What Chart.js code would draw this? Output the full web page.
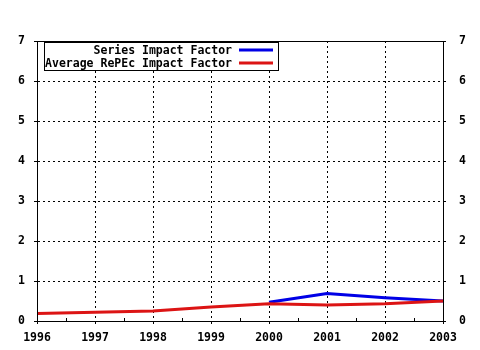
<!DOCTYPE html>
<html>
<head>
<meta charset="utf-8">
<script src="https://cdn.jsdelivr.net/npm/chart.js@4"></script>
<style>
html,body{margin:0;padding:0;background:#fff}
canvas{display:block}
</style>
</head>
<body>
<canvas id="myChart" width="480" height="350"></canvas>
<script>
// values
var years = [1996, 1997, 1998, 1999, 2000, 2001, 2002, 2003];
var seriesYears = [2000, 2001, 2002, 2003];
var seriesIF = [0.47, 0.69, 0.58, 0.50];
var averageIF = [0.19, 0.22, 0.25, 0.35, 0.43, 0.40, 0.43, 0.50];
var seriesLabels = ["Series Impact Factor", "Average RePEc Impact Factor"];
var seriesColors = ["#0000e6", "#dc1414"];

var monoFont = {family: "'DejaVu Sans Mono', monospace", size: 11.5, weight: "bold"};

function points(xs, ys){
    var out = [];
    for(var i = 0; i < xs.length; i++){
        out.push({x: xs[i], y: ys[i]});
    }
    return out;
}

var frame = {
    id: "frame",
    afterDatasetsDraw: function(chart){
        var a = chart.chartArea, ctx = chart.ctx;
        ctx.save();
        ctx.strokeStyle = "#000";
        ctx.lineWidth = 1;
        ctx.strokeRect(a.left + 0.5, a.top + 0.5, a.right - a.left, a.bottom - a.top);
        // small half-year ticks on bottom axis
        var xs = chart.scales.x;
        ctx.beginPath();
        for(var i = 0; i < years.length - 1; i++){
            var px = Math.round(xs.getPixelForValue(years[i] + 0.5)) + 0.5;
            ctx.moveTo(px, a.bottom);
            ctx.lineTo(px, a.bottom - 3);
        }
        ctx.stroke();

        // legend box
        var bx = 44, by = 42, bw = 234, bh = 28;
        ctx.fillStyle = "#fff";
        ctx.fillRect(bx, by, bw, bh);
        ctx.strokeRect(bx + 0.5, by + 0.5, bw, bh);
        ctx.font = "bold 11.5px 'DejaVu Sans Mono', monospace";
        ctx.textAlign = "right";
        ctx.textBaseline = "middle";
        for(var j = 0; j < seriesLabels.length; j++){
            var ty = by + 8 + j * 13;
            ctx.fillStyle = "#000";
            ctx.fillText(seriesLabels[j], 232, ty + 1.5);
            ctx.strokeStyle = seriesColors[j];
            ctx.lineWidth = 3;
            ctx.beginPath();
            ctx.moveTo(239, ty);
            ctx.lineTo(273, ty);
            ctx.stroke();
        }
        ctx.restore();
    }
};

new Chart("myChart", {
    type: "line",
    data: {
        datasets: [{
            label: seriesLabels[0],
            data: points(seriesYears, seriesIF),
            borderColor: seriesColors[0],
            borderWidth: 3,
            pointRadius: 0,
            tension: 0,
            order: 2
        }, {
            label: seriesLabels[1],
            data: points(years, averageIF),
            borderColor: seriesColors[1],
            borderWidth: 3,
            pointRadius: 0,
            tension: 0,
            order: 1
        }]
    },
    options: {
        responsive: false,
        animation: false,
        layout: {padding: {top: 41}},
        plugins: {legend: {display: false}, tooltip: {enabled: false}},
        scales: {
            x: {
                type: "linear",
                min: 1996, max: 2003,
                afterFit: function(s){ s.height = 29; },
                ticks: {stepSize: 1, color: "#000", font: monoFont, padding: 7, maxRotation: 0,
                    callback: function(v){ return String(v); }},
                grid: {color: "#000", tickLength: 3, lineWidth: 1},
                border: {color: "#000", dash: [2, 3]}
            },
            y: {
                position: "left",
                min: 0, max: 7,
                afterFit: function(s){ s.width = 37; },
                ticks: {stepSize: 1, color: "#000", font: monoFont, padding: 9},
                grid: {color: "#000", tickLength: 3, lineWidth: 1},
                border: {color: "#000", dash: [2, 3]}
            },
            y2: {
                position: "right",
                min: 0, max: 7,
                afterFit: function(s){ s.width = 37; },
                ticks: {stepSize: 1, color: "#000", font: monoFont, padding: 13},
                grid: {drawOnChartArea: false, color: "#000", tickLength: 3},
                border: {color: "#000"}
            }
        }
    },
    plugins: [frame]
});
</script>
</body>
</html>
